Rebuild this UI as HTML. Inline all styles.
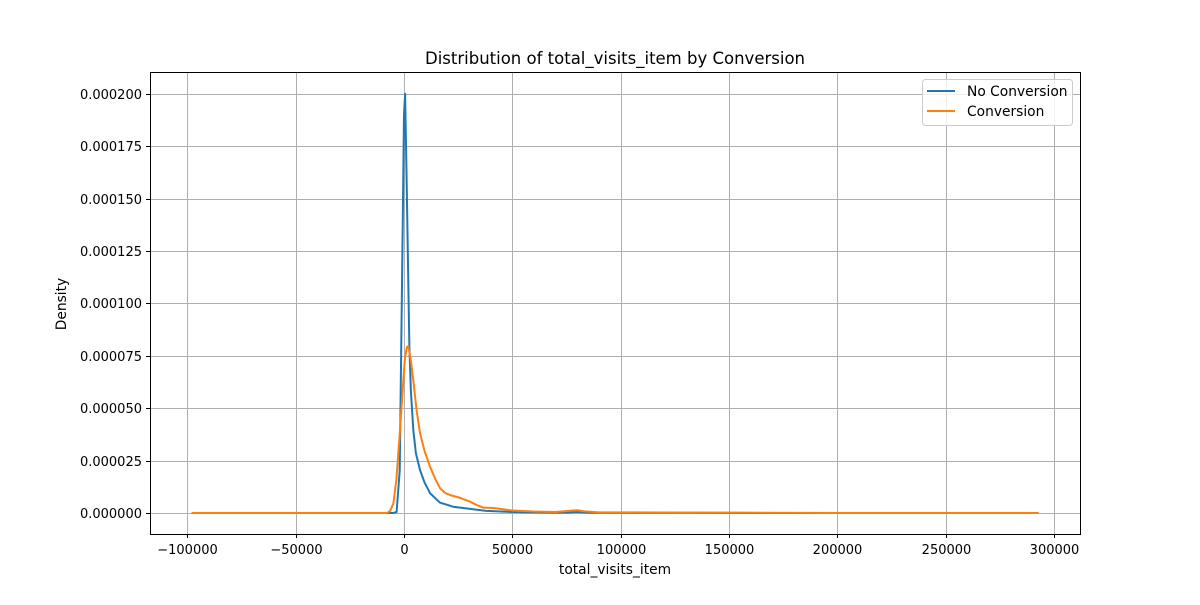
<!DOCTYPE html>
<html><head><meta charset="utf-8"><style>
body{margin:0;background:#fff;}
svg text{font-family:"DejaVu Sans","Liberation Sans",sans-serif;fill:#000;}
</style></head><body>
<svg id="chart" width="1200" height="600" xmlns="http://www.w3.org/2000/svg">
<rect width="1200" height="600" fill="#fff"/>
<g id="grid"></g>
<g id="series"></g>
<rect x="150.5" y="72.5" width="930" height="462" fill="none" stroke="#000" stroke-width="1"/>
<g id="ticks"></g>
<text x="615" y="64" font-size="16.5" text-anchor="middle">Distribution of total_visits_item by Conversion</text>
<text x="615" y="574" font-size="13.8" text-anchor="middle">total_visits_item</text>
<text x="66" y="304" font-size="13.8" text-anchor="middle" transform="rotate(-90 66 304)">Density</text>
<g>
<rect x="922.5" y="79.5" width="150" height="46" rx="3" fill="#fff" fill-opacity="0.8" stroke="#ccc"/>
<line x1="927" y1="91" x2="955" y2="91" stroke="#1f77b4" stroke-width="2"/>
<text x="967" y="96" font-size="13.8">No Conversion</text>
<line x1="927" y1="111" x2="955" y2="111" stroke="#ff7f0e" stroke-width="2"/>
<text x="967" y="116" font-size="13.8">Conversion</text>
</g>
</svg>
<script>
const xTicks=[-100000,-50000,0,50000,100000,150000,200000,250000,300000];
const yTicks=[0,0.000025,0.00005,0.000075,0.0001,0.000125,0.00015,0.000175,0.0002];
const yTickLabels=["0.000000","0.000025","0.000050","0.000075","0.000100","0.000125","0.000150","0.000175","0.000200"];
const noConvX=[-98000,-10000,-5000,-3400,-2000,-800,0,500,1200,2000,2500,3200,4300,5500,7400,9500,12000,14500,16600,19000,22600,30000,38000,50000,60000,75000,80000,85000,100000,130000,160000,200000,293000];
const noConvY=[0,0,0,0.0000005,0.00002,0.00012,0.00019,0.0002,0.00016,0.00011,0.000079,0.000058,0.0000396,0.0000285,0.0000205,0.0000145,0.0000095,0.000007,0.0000049,0.0000042,0.000003,0.000002,0.000001,0.0000005,0.0000003,0.0000002,0.0000005,0.0000002,0.0000001,0.0000001,0,0,0];
const convX=[-98000,-10000,-8000,-6500,-4900,-3500,-1850,0,460,1300,2000,3000,4300,5800,7400,9500,12000,14300,16600,18800,21200,26000,30500,33500,36500,41500,46000,50000,60000,70000,78000,80000,83000,90000,105000,130000,155000,200000,293000];
const convY=[0,0,0,0.0000008,0.0000046,0.000016,0.0000396,0.000068,0.000074,0.000079,0.0000797,0.000074,0.0000634,0.000049,0.0000381,0.0000295,0.0000221,0.0000165,0.0000119,0.0000097,0.0000086,0.0000072,0.0000054,0.0000038,0.0000026,0.0000024,0.0000017,0.0000012,0.0000007,0.0000005,0.0000012,0.0000013,0.0000008,0.0000003,0.0000003,0.0000002,0.0000002,0,0];
const X=v=>404+v*(108.3/50000);
const Y=v=>513-v*(52.4/0.000025);
const NS="http://www.w3.org/2000/svg";
const grid=document.getElementById('grid'),ticks=document.getElementById('ticks'),ser=document.getElementById('series');
function mk(t,a){const e=document.createElementNS(NS,t);for(const k in a)e.setAttribute(k,a[k]);return e;}
xTicks.forEach(v=>{const x=Math.round(X(v))+0.5;
 const g=mk('line',{x1:x,x2:x,y1:72,y2:534,stroke:'#b0b0b0','stroke-width':1});
 
 grid.appendChild(g);
 const t=mk('line',{x1:x,x2:x,y1:534,y2:538,stroke:'#000'});
 
 ticks.appendChild(t);
 const l=mk('text',{x:x,y:554,'font-size':13,'text-anchor':'middle'});l.textContent=String(v).replace('-','\u2212');
 
 ticks.appendChild(l);});
yTicks.forEach((v,i)=>{const y=Math.round(Y(v))+0.5;
 const g=mk('line',{x1:150,x2:1080,y1:y,y2:y,stroke:'#b0b0b0','stroke-width':1});
 
 grid.appendChild(g);
 const t=mk('line',{x1:146,x2:150,y1:y,y2:y,stroke:'#000'});
 
 ticks.appendChild(t);
 const l=mk('text',{x:142,y:y+4.5,'font-size':13,'text-anchor':'end'});l.textContent=yTickLabels[i];
 
 ticks.appendChild(l);});
function line(xs,ys,c,name){const d=xs.map((x,i)=>(i?'L':'M')+X(x).toFixed(1)+','+Y(ys[i]).toFixed(1)).join('');
 const p=mk('path',{d:d,fill:'none',stroke:c,'stroke-width':2,'stroke-linejoin':'round'});
 
 ser.appendChild(p);}
line(noConvX,noConvY,'#1f77b4','no-conversion-line');
line(convX,convY,'#ff7f0e','conversion-line');
</script>
</body></html>
